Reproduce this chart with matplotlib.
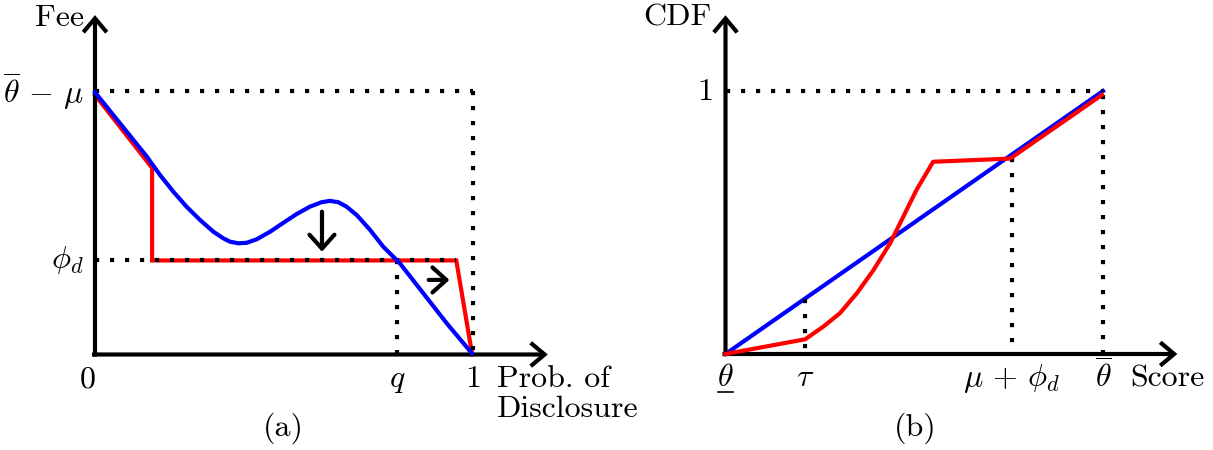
import matplotlib
matplotlib.use("Agg")
import matplotlib.pyplot as plt

plt.rcParams['font.family'] = ['cmr10', 'DejaVu Serif']
plt.rcParams['mathtext.fontset'] = 'cm'
plt.rcParams['axes.unicode_minus'] = False
plt.rcParams['axes.formatter.use_mathtext'] = True

# ---------------- data: panel (a) ----------------
fee_blue_x = [0.0, 0.137, 0.172, 0.207, 0.242, 0.278, 0.313, 0.339, 0.357, 0.379,
              0.401, 0.427, 0.463, 0.498, 0.533, 0.568, 0.599, 0.621, 0.643, 0.665,
              0.692, 0.727, 0.762, 0.806, 0.868, 0.930, 0.996]
fee_blue_y = [0.995, 0.751, 0.681, 0.618, 0.561, 0.510, 0.466, 0.441, 0.428, 0.422,
              0.424, 0.437, 0.466, 0.500, 0.533, 0.561, 0.578, 0.583, 0.578, 0.561,
              0.529, 0.473, 0.409, 0.346, 0.232, 0.118, 0.005]
fee_red_x = [0.0, 0.151, 0.151, 0.955, 0.997]
fee_red_y = [0.985, 0.708, 0.357, 0.357, 0.0]
phi_d = 0.357
q_val = 0.799
top_a = 1.0
down_arrow_x = 0.600
down_arrow_y = [0.542, 0.390]
right_arrow_y = 0.283
right_arrow_x = [0.882, 0.937]

# ---------------- data: panel (b) ----------------
cdf_blue_x = [0.0, 1.0]
cdf_blue_y = [0.0, 1.0]
cdf_red_x = [0.0, 0.211, 0.259, 0.303, 0.348, 0.392, 0.436, 0.471, 0.506, 0.550, 0.754, 0.997]
cdf_red_y = [0.0, 0.056, 0.104, 0.155, 0.231, 0.319, 0.421, 0.522, 0.624, 0.731, 0.743, 0.985]
tau = 0.211
mu_phi = 0.759
mu_phi_top = 0.745

BLUE = (0, 0, 1)
RED = (1, 0, 0)
LW = 3.0
DOT = (0, (1, 2.6))
FS = 23

fig = plt.figure(figsize=(12.13, 4.5), dpi=100)
axa = fig.add_axes([0, 0, 606 / 1213, 1])
axb = fig.add_axes([606 / 1213, 0, 607 / 1213, 1])

axa.set_xlim(-95 / 378.3, (606 - 95) / 378.3)
axa.set_ylim((354.5 - 450) / 263.5, 354.5 / 263.5)
axb.set_xlim((606 - 725.5) / 377.5, (1213 - 725.5) / 377.5)
axb.set_ylim((354 - 450) / 263, 354 / 263)
for ax in (axa, axb):
    ax.axis('off')


def axes_arrows(ax):
    kw = dict(arrowstyle='->,head_length=0.5,head_width=0.42', lw=LW, color='black',
              shrinkA=0, shrinkB=0, mutation_scale=20, joinstyle='miter', capstyle='butt')
    ax.annotate('', xy=(1.197, 0), xytext=(-0.008, 0), arrowprops=kw, annotation_clip=False)
    ax.annotate('', xy=(0, 1.288), xytext=(0, -0.008), arrowprops=kw, annotation_clip=False)


def dotted(ax, xs, ys):
    ax.plot(xs, ys, color='black', lw=LW, linestyle=DOT, dash_capstyle='butt', zorder=3)


# ---------------- panel (a) ----------------
axa.plot(fee_red_x, fee_red_y, color=RED, lw=LW, zorder=2, solid_joinstyle='miter')
dotted(axa, [0, 1.0], [top_a, top_a])
dotted(axa, [1.0, 1.0], [top_a, 0])
dotted(axa, [0, fee_red_x[3]], [phi_d, phi_d])
dotted(axa, [q_val, q_val], [phi_d, 0])
axa.plot(fee_blue_x, fee_blue_y, color=BLUE, lw=LW, zorder=4, solid_joinstyle='round')
axes_arrows(axa)
akw = dict(arrowstyle='->,head_length=0.5,head_width=0.45', lw=LW, color='black',
           shrinkA=0, shrinkB=0, mutation_scale=20)
axa.annotate('', xy=(down_arrow_x, down_arrow_y[1]), xytext=(down_arrow_x, down_arrow_y[0]),
             arrowprops=akw)
axa.annotate('', xy=(right_arrow_x[1], right_arrow_y), xytext=(right_arrow_x[0], right_arrow_y),
             arrowprops=akw)

axa.text(-0.03, 1.277, 'Fee', fontsize=FS, ha='right', va='center')
axa.text(-0.03, 1.0, r'$\overline{\theta}\,-\,\mu$', fontsize=FS, ha='right', va='center')
axa.text(-0.03, phi_d, r'$\phi_d$', fontsize=FS, ha='right', va='center')
axa.text(-0.018, -0.125, '0', fontsize=FS, ha='center', va='baseline')
axa.text(q_val, -0.125, r'$q$', fontsize=FS, ha='center', va='baseline')
axa.text(1.0, -0.125, '1', fontsize=FS, ha='center', va='baseline')
axa.text(1.063, -0.125, 'Prob. of', fontsize=FS, ha='left', va='baseline')
axa.text(1.063, -0.237, 'Disclosure', fontsize=FS, ha='left', va='baseline')
axa.text(0.497, -0.279, '(a)', fontsize=FS, ha='center', va='center')

# ---------------- panel (b) ----------------
axb.plot(cdf_blue_x, cdf_blue_y, color=BLUE, lw=LW, zorder=2)
axb.plot(cdf_red_x, cdf_red_y, color=RED, lw=LW, zorder=4, solid_joinstyle='round')
dotted(axb, [0, 1.0], [1.0, 1.0])
dotted(axb, [1.0, 1.0], [cdf_red_y[-1], 0])
dotted(axb, [tau, tau], [tau, 0])
dotted(axb, [mu_phi, mu_phi], [mu_phi_top, 0])
axes_arrows(axb)

axb.text(-0.038, 1.278, 'CDF', fontsize=FS, ha='right', va='center')
axb.text(-0.054, 0.996, '1', fontsize=FS, ha='center', va='center')
axb.text(0.0, -0.122, r'$\theta$', fontsize=FS, ha='center', va='baseline')
axb.plot([-0.02, 0.02], [-0.145, -0.145], color='black', lw=1.2, clip_on=False)
axb.text(tau, -0.122, r'$\tau$', fontsize=FS, ha='center', va='baseline')
axb.text(mu_phi, -0.122, r'$\mu\,+\,\phi_d$', fontsize=FS, ha='center', va='baseline')
axb.text(1.0, -0.13, r'$\overline{\theta}$', fontsize=FS, ha='center', va='baseline')
axb.text(1.071, -0.122, 'Score', fontsize=FS, ha='left', va='baseline')
axb.text(0.502, -0.281, '(b)', fontsize=FS, ha='center', va='center')

fig.savefig('out.png', dpi=100)
